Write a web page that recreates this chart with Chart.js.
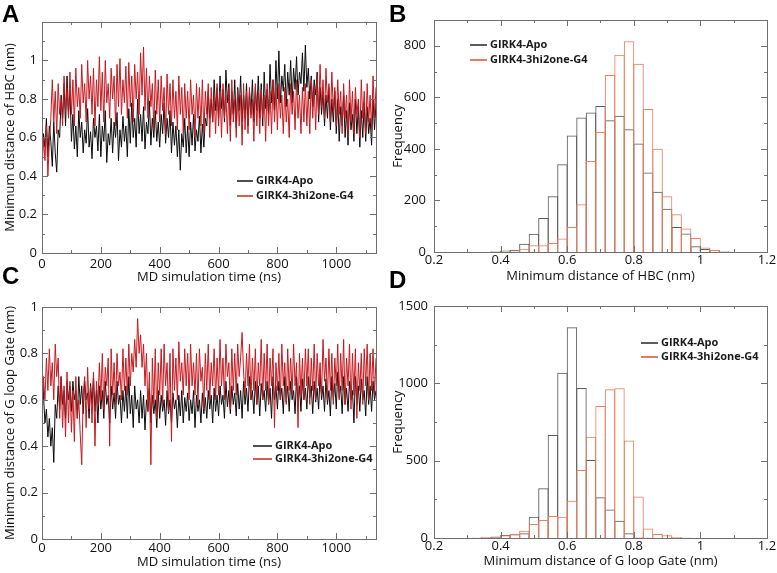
<!DOCTYPE html>
<html lang="en">
<head>
<meta charset="UTF-8">
<title>GIRK4 HBC and G loop gate distances</title>
<script src="https://cdn.jsdelivr.net/npm/chart.js"></script>
<style>
  body { margin: 0; background: #fff; width: 777px; height: 573px; position: relative; overflow: hidden; }
  .panel { position: absolute; }
  .tag { position: absolute; font: bold 24px 'Liberation Sans', Arial, sans-serif; color: #000; line-height: 1; }
</style>
</head>
<body>
<div class="panel" style="left:0;top:0"><canvas id="chartA" width="388" height="290"></canvas></div>
<div class="panel" style="left:390px;top:0"><canvas id="chartB" width="387" height="290"></canvas></div>
<div class="panel" style="left:0;top:285px"><canvas id="chartC" width="388" height="288"></canvas></div>
<div class="panel" style="left:390px;top:285px"><canvas id="chartD" width="387" height="288"></canvas></div>
<div class="tag" style="left:2px;top:2px">A</div>
<div class="tag" style="left:389px;top:2px">B</div>
<div class="tag" style="left:2px;top:264px">C</div>
<div class="tag" style="left:389px;top:268px">D</div>

<script>
// time axis of the MD traces (ns), one sample every 5 ns
const timeNs = [
  0,5,10,15,20,25,30,35,40,45,50,55,60,65,70,75,80,85,90,95,
  100,105,110,115,120,125,130,135,140,145,150,155,160,165,170,175,180,185,190,195,
  200,205,210,215,220,225,230,235,240,245,250,255,260,265,270,275,280,285,290,295,
  300,305,310,315,320,325,330,335,340,345,350,355,360,365,370,375,380,385,390,395,
  400,405,410,415,420,425,430,435,440,445,450,455,460,465,470,475,480,485,490,495,
  500,505,510,515,520,525,530,535,540,545,550,555,560,565,570,575,580,585,590,595,
  600,605,610,615,620,625,630,635,640,645,650,655,660,665,670,675,680,685,690,695,
  700,705,710,715,720,725,730,735,740,745,750,755,760,765,770,775,780,785,790,795,
  800,805,810,815,820,825,830,835,840,845,850,855,860,865,870,875,880,885,890,895,
  900,905,910,915,920,925,930,935,940,945,950,955,960,965,970,975,980,985,990,995,
  1000,1005,1010,1015,1020,1025,1030,1035,1040,1045,1050,1055,1060,1065,1070,1075,1080,1085,1090,1095,
  1100,1105,1110,1115,1120,1125,1130,1135,1140
];

// panel A: minimum distance of HBC (nm)
const hbcApo = [
  0.48,0.62,0.55,0.70,0.50,0.66,0.58,0.45,0.68,0.52,0.42,0.64,0.60,0.82,0.70,0.88,0.66,0.92,0.72,0.85,
  0.58,0.72,0.54,0.66,0.50,0.74,0.60,0.68,0.52,0.64,0.57,0.75,0.55,0.63,0.49,0.70,0.60,0.66,0.53,0.72,
  0.50,0.66,0.58,0.74,0.47,0.62,0.56,0.70,0.52,0.68,0.60,0.73,0.48,0.64,0.55,0.71,0.58,0.66,0.50,0.75,
  0.57,0.78,0.60,0.70,0.55,0.80,0.62,0.72,0.58,0.76,0.54,0.68,0.62,0.79,0.56,0.70,0.60,0.74,0.58,0.68,
  0.55,0.72,0.62,0.78,0.57,0.70,0.60,0.74,0.52,0.68,0.56,0.66,0.50,0.64,0.43,0.62,0.55,0.70,0.52,0.66,
  0.50,0.68,0.56,0.72,0.53,0.64,0.58,0.71,0.52,0.67,0.55,0.70,0.66,0.84,0.70,0.80,0.68,0.90,0.74,0.86,
  0.70,0.92,0.75,0.85,0.68,0.95,0.78,0.88,0.66,0.84,0.72,0.90,0.65,0.86,0.74,0.92,0.68,0.82,0.70,0.88,
  0.66,0.84,0.72,0.90,0.68,0.86,0.74,0.92,0.70,0.88,0.66,0.94,0.75,0.85,0.72,0.98,0.78,0.90,0.74,1.00,
  0.80,1.05,0.78,0.92,0.84,0.98,0.76,0.94,0.82,1.00,0.78,0.96,0.85,1.02,0.82,0.94,0.88,1.04,0.84,1.08,
  0.86,0.96,0.80,0.92,0.76,0.90,0.82,0.94,0.68,0.86,0.72,0.84,0.66,0.82,0.70,0.86,0.64,0.80,0.68,0.84,
  0.62,0.80,0.58,0.76,0.66,0.82,0.60,0.74,0.56,0.78,0.64,0.72,0.58,0.80,0.62,0.76,0.55,0.74,0.60,0.78,
  0.58,0.76,0.62,0.70,0.56,0.80,0.64,0.78,0.66
];
const hbcG4 = [
  0.42,0.60,0.48,0.66,0.40,0.58,0.70,0.90,0.68,0.84,0.62,0.88,0.72,0.80,0.66,0.92,0.74,0.86,0.70,0.94,
  0.72,0.90,0.66,0.96,0.76,0.86,0.70,0.98,0.78,0.88,0.68,1.00,0.80,0.92,0.72,0.96,0.66,0.90,0.76,1.02,
  0.74,0.94,0.68,1.00,0.78,0.88,0.70,0.96,0.80,0.92,0.66,0.98,0.76,1.01,0.72,0.90,0.78,0.97,0.70,0.99,
  0.76,0.92,0.68,0.98,0.80,0.94,0.72,1.04,0.82,1.07,0.74,0.96,0.70,0.92,0.76,0.88,0.64,0.95,0.72,0.90,
  0.68,0.92,0.74,0.86,0.62,0.93,0.72,0.88,0.66,0.90,0.70,0.84,0.64,0.92,0.72,0.86,0.62,0.88,0.70,0.84,
  0.64,0.90,0.72,0.82,0.60,0.88,0.70,0.86,0.66,0.90,0.62,0.84,0.72,0.88,0.60,0.86,0.68,0.82,0.62,0.88,
  0.66,0.84,0.60,0.88,0.70,0.82,0.62,0.86,0.58,0.90,0.68,0.80,0.60,0.85,0.66,0.82,0.56,0.88,0.64,0.84,
  0.62,0.86,0.70,0.80,0.58,0.88,0.66,0.84,0.62,0.85,0.70,0.82,0.58,0.88,0.66,0.84,0.62,0.90,0.68,0.86,
  0.64,0.88,0.70,0.82,0.62,0.86,0.68,0.80,0.60,0.88,0.72,0.84,0.64,0.90,0.70,0.82,0.62,0.86,0.68,0.88,
  0.66,0.84,0.62,0.90,0.70,0.86,0.64,0.92,0.72,0.98,0.76,0.90,0.70,0.96,0.78,0.88,0.68,0.94,0.74,0.86,
  0.66,0.90,0.72,0.84,0.62,0.88,0.70,0.82,0.60,0.90,0.68,0.84,0.62,0.86,0.72,0.80,0.60,0.90,0.70,0.84,
  0.62,0.88,0.68,0.82,0.64,0.92,0.70,0.86,0.72
];

// panel C: minimum distance of G loop gate (nm)
const gateApo = [
  0.76,0.62,0.50,0.56,0.44,0.52,0.40,0.48,0.33,0.58,0.52,0.66,0.56,0.70,0.58,0.64,0.52,0.68,0.60,0.66,
  0.55,0.68,0.60,0.64,0.52,0.70,0.58,0.66,0.54,0.68,0.60,0.63,0.52,0.67,0.58,0.70,0.55,0.64,0.50,0.66,
  0.56,0.64,0.52,0.68,0.58,0.62,0.50,0.66,0.56,0.63,0.52,0.68,0.58,0.62,0.50,0.64,0.55,0.66,0.52,0.70,
  0.54,0.62,0.48,0.66,0.56,0.60,0.50,0.64,0.52,0.62,0.47,0.60,0.55,0.65,0.50,0.62,0.54,0.60,0.48,0.64,
  0.52,0.62,0.55,0.60,0.49,0.64,0.54,0.60,0.50,0.63,0.56,0.60,0.48,0.62,0.53,0.64,0.50,0.61,0.55,0.63,
  0.51,0.60,0.54,0.64,0.48,0.62,0.55,0.60,0.50,0.63,0.54,0.61,0.52,0.64,0.56,0.62,0.50,0.65,0.55,0.62,
  0.53,0.66,0.58,0.62,0.52,0.68,0.57,0.64,0.54,0.66,0.58,0.63,0.53,0.67,0.56,0.64,0.52,0.68,0.58,0.65,
  0.55,0.70,0.60,0.64,0.54,0.68,0.58,0.66,0.53,0.67,0.60,0.64,0.55,0.68,0.58,0.65,0.52,0.70,0.60,0.66,
  0.56,0.68,0.60,0.65,0.54,0.70,0.59,0.66,0.55,0.68,0.60,0.64,0.54,0.70,0.58,0.66,0.55,0.69,0.60,0.65,
  0.56,0.70,0.61,0.66,0.54,0.68,0.59,0.65,0.56,0.71,0.60,0.66,0.55,0.69,0.58,0.64,0.53,0.70,0.60,0.67,
  0.56,0.72,0.61,0.66,0.54,0.70,0.58,0.65,0.55,0.68,0.60,0.64,0.50,0.70,0.58,0.66,0.55,0.69,0.60,0.64,
  0.53,0.70,0.58,0.66,0.55,0.68,0.60,0.64,0.56
];
const gateG4 = [
  0.55,0.70,0.60,0.78,0.64,0.82,0.66,0.76,0.60,0.84,0.70,0.78,0.52,0.70,0.48,0.66,0.44,0.72,0.50,0.68,
  0.46,0.64,0.42,0.70,0.52,0.60,0.45,0.32,0.62,0.70,0.48,0.74,0.56,0.66,0.50,0.72,0.40,0.68,0.58,0.76,
  0.60,0.80,0.56,0.74,0.66,0.78,0.40,0.82,0.62,0.76,0.58,0.80,0.66,0.72,0.60,0.82,0.64,0.78,0.62,0.84,
  0.66,0.80,0.72,0.86,0.74,0.95,0.80,0.88,0.74,0.84,0.66,0.80,0.55,0.72,0.32,0.78,0.58,0.82,0.52,0.76,
  0.62,0.82,0.58,0.84,0.66,0.76,0.55,0.80,0.42,0.82,0.64,0.78,0.60,0.85,0.68,0.76,0.62,0.82,0.66,0.80,
  0.60,0.84,0.66,0.76,0.62,0.80,0.58,0.82,0.68,0.74,0.56,0.80,0.64,0.84,0.60,0.76,0.66,0.82,0.60,0.78,
  0.62,0.86,0.66,0.78,0.60,0.84,0.70,0.76,0.56,0.82,0.64,0.80,0.62,0.84,0.70,0.78,0.89,0.72,0.62,0.80,
  0.66,0.84,0.60,0.78,0.64,0.82,0.58,0.76,0.66,0.86,0.60,0.80,0.64,0.84,0.58,0.78,0.66,0.82,0.48,0.76,
  0.64,0.80,0.60,0.84,0.66,0.76,0.58,0.82,0.64,0.78,0.62,0.84,0.66,0.76,0.48,0.80,0.62,0.78,0.60,0.82,
  0.66,0.82,0.58,0.78,0.64,0.84,0.60,0.80,0.66,0.76,0.62,0.86,0.68,0.78,0.60,0.82,0.64,0.80,0.58,0.78,
  0.66,0.84,0.60,0.80,0.64,0.86,0.58,0.78,0.66,0.84,0.56,0.80,0.62,0.82,0.52,0.76,0.64,0.80,0.58,0.82,
  0.66,0.84,0.60,0.80,0.64,0.82,0.62,0.78,0.66
];

// panel B: histogram of HBC distance (bin centres, nm)
const hbcBins = [0.3857,0.4143,0.4429,0.4714,0.5,0.5286,0.5571,0.5857,0.6143,0.6429,0.6714,0.7,0.7286,
                 0.7571,0.7857,0.8143,0.8429,0.8714,0.9,0.9286,0.9571,0.9857,1.0143,1.0429,1.0714,1.1];
const hbcApoFreq = [3,6,9,32,71,132,216,340,452,522,541,566,511,529,476,421,308,234,168,97,72,22,12,8,3,1];
const hbcG4Freq  = [2,2,3,13,26,26,35,52,97,185,353,466,687,765,818,730,555,401,216,146,91,54,17,8,2,0];

// panel D: histogram of G loop gate distance
const gateBins = [0.3,0.3286,0.3571,0.3857,0.4143,0.4429,0.4714,0.5,0.5286,0.5571,0.5857,0.6143,
                  0.6429,0.6714,0.7,0.7286,0.7571,0.7857,0.8143,0.8429,0.8714,0.9,0.9286,0.9571];
const gateApoFreq = [0,2,5,8,20,24,30,138,321,666,1069,1362,970,504,263,185,112,30,5,1,0,0,0,0];
const gateG4Freq  = [2,4,6,10,17,28,47,90,116,142,138,241,440,655,853,961,968,631,269,62,26,17,6,3];

// tick labels
const timeTicks = [0,200,400,600,800,1000];
const distTicks = [0,0.2,0.4,0.6,0.8,1];
const binTicks = [0.2,0.4,0.6,0.8,1,1.2];
const freqTicksB = [0,200,400,600,800];
const freqTicksD = [0,500,1000,1500];

const seriesNames = ['GIRK4-Apo', 'GIRK4-3hi2one-G4'];

const tickFont = { family: "'Open Sans', sans-serif", size: 13 };
const titleFont = { family: "'Open Sans', sans-serif", size: 13 };

// box around plot with inward ticks on all four sides (xmgrace look)
const frameTicks = {
  id: 'frameTicks',
  afterDraw(chart, args, o) {
    const { ctx, chartArea: a, scales: { x, y } } = chart;
    ctx.save();
    ctx.strokeStyle = '#6e6e6e';
    ctx.lineWidth = 1;
    ctx.strokeRect(Math.round(a.left) + 0.5, Math.round(a.top) + 0.5, Math.round(a.width), Math.round(a.height));
    ctx.beginPath();
    for (let k = 0; x.min + k * o.xStep <= x.max + 1e-9; k++) {
      const px = Math.round(x.getPixelForValue(x.min + k * o.xStep)) + 0.5;
      const len = k % 2 === 0 ? 6 : 3;
      ctx.moveTo(px, a.bottom); ctx.lineTo(px, a.bottom - len);
      ctx.moveTo(px, a.top); ctx.lineTo(px, a.top + len);
    }
    for (let k = 0; y.min + k * o.yStep <= y.max + 1e-9; k++) {
      const py = Math.round(y.getPixelForValue(y.min + k * o.yStep)) + 0.5;
      const len = k % 2 === 0 ? 6 : 3;
      ctx.moveTo(a.left, py); ctx.lineTo(a.left + len, py);
      ctx.moveTo(a.right, py); ctx.lineTo(a.right - len, py);
    }
    ctx.stroke();
    ctx.restore();
  }
};

// legend drawn inside the plot
const insideLegend = {
  id: 'insideLegend',
  afterDraw(chart, args, o) {
    const { ctx } = chart;
    ctx.save();
    ctx.font = "bold 11px 'Open Sans', sans-serif";
    ctx.textBaseline = 'middle';
    o.items.forEach((it, i) => {
      ctx.strokeStyle = it.color;
      ctx.lineWidth = 1.6;
      ctx.beginPath();
      ctx.moveTo(o.x, o.y[i]);
      ctx.lineTo(o.x + o.len, o.y[i]);
      ctx.stroke();
      ctx.fillStyle = '#1a1a1a';
      ctx.fillText(seriesNames[i], o.x + o.len + 3, o.y[i]);
    });
    ctx.restore();
  }
};

function fmt(v) { return String(+Number(v).toFixed(2)); }

function panelOptions(p) {
  return {
    responsive: false,
    animation: false,
    layout: { padding: p.pad },
    // bars a hair wider than the bin so neighbouring outlines share one line
    datasets: { bar: { grouped: false, barPercentage: 1.1, categoryPercentage: 1 } },
    plugins: {
      legend: { display: false },
      tooltip: { enabled: false },
      frameTicks: p.frame,
      insideLegend: p.legend
    },
    scales: {
      x: {
        type: 'linear', min: p.xMin, max: p.xMax, offset: false,
        grid: { display: false, drawTicks: false }, border: { display: false },
        afterBuildTicks: s => { s.ticks = p.xTicks.map(v => ({ value: v })); },
        afterFit: s => { s.height = p.xH; },
        ticks: { font: tickFont, color: '#111', padding: p.xPad, maxRotation: 0, autoSkip: false, callback: fmt },
        title: { display: true, text: p.xTitle, font: titleFont, color: '#111', padding: { top: 0, bottom: p.xTitlePad } }
      },
      y: {
        type: 'linear', min: p.yMin, max: p.yMax,
        grid: { display: false, drawTicks: false }, border: { display: false },
        afterBuildTicks: s => { s.ticks = p.yTicks.map(v => ({ value: v })); },
        afterFit: s => { s.width = p.yW; },
        ticks: { font: tickFont, color: '#111', padding: p.yPad, autoSkip: false, callback: fmt },
        title: { display: true, text: p.yTitle, font: titleFont, color: '#111', padding: { top: p.yTitlePad, bottom: 0 } }
      }
    }
  };
}

function traceSet(values, color, order) {
  return {
    data: timeNs.map((t, i) => ({ x: t, y: values[i] })),
    borderColor: color, borderWidth: 1, pointRadius: 0, tension: 0, order: order
  };
}

function histSet(bins, counts, color, order) {
  return {
    data: bins.map((b, i) => ({ x: b, y: counts[i] })),
    backgroundColor: 'rgba(0,0,0,0)', borderColor: color, borderWidth: 1, order: order
  };
}

new Chart(document.getElementById('chartA'), {
  type: 'line',
  data: { datasets: [traceSet(hbcApo, '#0a0a0a', 1), traceSet(hbcG4, '#c8181e', 0)] },
  options: panelOptions({
    pad: { top: 22, right: 12, left: 0, bottom: 0 }, xH: 37, yW: 42,
    xMin: 0, xMax: 1135, yMin: 0, yMax: 1.2, xTicks: timeTicks, yTicks: distTicks,
    xPad: 3, yPad: 5, xTitlePad: 5, yTitlePad: 2,
    xTitle: 'MD simulation time (ns)', yTitle: 'Minimum distance of HBC (nm)',
    frame: { xStep: 100, yStep: 0.1 },
    legend: { x: 237, len: 16, y: [181, 196], items: [{ color: '#222' }, { color: '#c0392b' }] }
  }),
  plugins: [frameTicks, insideLegend]
});

new Chart(document.getElementById('chartB'), {
  type: 'bar',
  data: { datasets: [histSet(hbcBins, hbcApoFreq, '#5a5a5a', 1), histSet(hbcBins, hbcG4Freq, '#ea7f62', 0)] },
  options: panelOptions({
    pad: { top: 20, right: 10, left: 0, bottom: 0 }, xH: 38, yW: 44,
    xMin: 0.2, xMax: 1.2, yMin: 0, yMax: 900, xTicks: binTicks, yTicks: freqTicksB,
    xPad: 0, yPad: 8, xTitlePad: 6, yTitlePad: 0,
    xTitle: 'Minimum distance of HBC (nm)', yTitle: 'Frequency',
    frame: { xStep: 0.1, yStep: 100 },
    legend: { x: 80, len: 17, y: [45, 60], items: [{ color: '#333' }, { color: '#e05a3a' }] }
  }),
  plugins: [frameTicks, insideLegend]
});

new Chart(document.getElementById('chartC'), {
  type: 'line',
  data: { datasets: [traceSet(gateApo, '#0a0a0a', 1), traceSet(gateG4, '#c8181e', 0)] },
  options: panelOptions({
    pad: { top: 22, right: 12, left: 0, bottom: 0 }, xH: 34, yW: 42,
    xMin: 0, xMax: 1135, yMin: 0, yMax: 1, xTicks: timeTicks, yTicks: distTicks,
    xPad: 1, yPad: 4, xTitlePad: 3, yTitlePad: 2,
    xTitle: 'MD simulation time (ns)', yTitle: 'Minimum distance of G loop Gate (nm)',
    frame: { xStep: 100, yStep: 0.1 },
    legend: { x: 253, len: 19, y: [161, 174], items: [{ color: '#222' }, { color: '#c0392b' }] }
  }),
  plugins: [frameTicks, insideLegend]
});

new Chart(document.getElementById('chartD'), {
  type: 'bar',
  data: { datasets: [histSet(gateBins, gateApoFreq, '#5a5a5a', 1), histSet(gateBins, gateG4Freq, '#ea7f62', 0)] },
  options: panelOptions({
    pad: { top: 21, right: 10, left: 0, bottom: 0 }, xH: 35, yW: 44,
    xMin: 0.2, xMax: 1.2, yMin: 0, yMax: 1500, xTicks: binTicks, yTicks: freqTicksD,
    xPad: 0, yPad: 6, xTitlePad: 4, yTitlePad: 0,
    xTitle: 'Minimum distance of G loop Gate (nm)', yTitle: 'Frequency',
    frame: { xStep: 0.1, yStep: 250 },
    legend: { x: 251, len: 17, y: [58, 72], items: [{ color: '#333' }, { color: '#e05a3a' }] }
  }),
  plugins: [frameTicks, insideLegend]
});
</script>
</body>
</html>
